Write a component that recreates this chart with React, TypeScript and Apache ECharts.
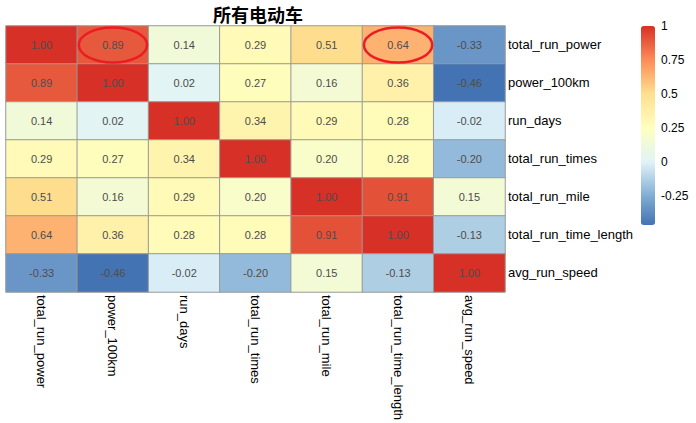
import React, { useEffect, useRef } from "react";
import * as echarts from "echarts";

const variables = [
  "total_run_power",
  "power_100km",
  "run_days",
  "total_run_times",
  "total_run_mile",
  "total_run_time_length",
  "avg_run_speed",
];

const rowTotalRunPower = [1.0, 0.89, 0.14, 0.29, 0.51, 0.64, -0.33];
const rowPower100km = [0.89, 1.0, 0.02, 0.27, 0.16, 0.36, -0.46];
const rowRunDays = [0.14, 0.02, 1.0, 0.34, 0.29, 0.28, -0.02];
const rowTotalRunTimes = [0.29, 0.27, 0.34, 1.0, 0.2, 0.28, -0.2];
const rowTotalRunMile = [0.51, 0.16, 0.29, 0.2, 1.0, 0.91, 0.15];
const rowTotalRunTimeLength = [0.64, 0.36, 0.28, 0.28, 0.91, 1.0, -0.13];
const rowAvgRunSpeed = [-0.33, -0.46, -0.02, -0.2, 0.15, -0.13, 1.0];

const matrix = [
  rowTotalRunPower,
  rowPower100km,
  rowRunDays,
  rowTotalRunTimes,
  rowTotalRunMile,
  rowTotalRunTimeLength,
  rowAvgRunSpeed,
];

// highlighted cells: [column index, row index]
const highlighted = [
  [1, 0],
  [5, 0],
];

const colorbarTicks = [1, 0.75, 0.5, 0.25, 0, -0.25];
const scaleMin = -0.46;
const scaleMax = 1;

const colorStops: [number, string][] = [
  [-0.46, "#4473b3"],
  [-0.25, "#80acd2"],
  [0, "#e0f3f8"],
  [0.25, "#ffffbf"],
  [0.5, "#fee090"],
  [0.75, "#fc8d59"],
  [1, "#d73027"],
];

function hexToRgb(h: string) {
  const n = parseInt(h.slice(1), 16);
  return [(n >> 16) & 255, (n >> 8) & 255, n & 255];
}
function colorAt(v: number) {
  for (let i = 0; i < colorStops.length - 1; i++) {
    const [a, ca] = colorStops[i];
    const [b, cb] = colorStops[i + 1];
    if (v <= b || i === colorStops.length - 2) {
      const t = Math.max(0, Math.min(1, (v - a) / (b - a)));
      const A = hexToRgb(ca);
      const B = hexToRgb(cb);
      const c = A.map((x, k) => Math.round(x + (B[k] - x) * t));
      return `rgb(${c[0]},${c[1]},${c[2]})`;
    }
  }
  return colorStops[colorStops.length - 1][1];
}
const paletteSteps = 147;
const palette: string[] = [];
for (let i = 0; i < paletteSteps; i++) {
  palette.push(colorAt(scaleMin + ((scaleMax - scaleMin) * i) / (paletteSteps - 1)));
}

export default function App() {
  const ref = useRef<HTMLDivElement>(null);
  useEffect(() => {
    if (!ref.current) return;
    const chart = echarts.init(ref.current, null, { renderer: "svg" });
    const heatData: [number, number, number][] = [];
    matrix.forEach((row, r) => row.forEach((v, c) => heatData.push([c, r, v])));
    const font = "'Liberation Sans', Arial, sans-serif";
    chart.setOption({
      animation: false,
      backgroundColor: "#ffffff",
      title: {
        text: "所有电动车",
        left: 253,
        top: 0,
        textAlign: "center",
        textStyle: {
          fontFamily: "'Noto Sans CJK SC', sans-serif",
          fontSize: 18,
          fontWeight: "bold",
          color: "#000",
        },
      },
      grid: [
        { left: 6, top: 26, width: 499, height: 267 },
        { left: 641, top: 26, width: 14, height: 199 },
      ],
      xAxis: [
        {
          type: "category",
          data: variables,
          gridIndex: 0,
          position: "bottom",
          axisLine: { show: false },
          axisTick: { show: false },
          splitLine: { show: false },
          axisLabel: {
            rotate: -90,
            margin: 3,
            interval: 0,
            fontSize: 13,
            fontFamily: font,
            color: "#000",
          },
        },
        { type: "value", gridIndex: 1, show: false, min: 0, max: 1 },
      ],
      yAxis: [
        {
          type: "category",
          data: variables,
          gridIndex: 0,
          inverse: true,
          position: "right",
          axisLine: { show: false },
          axisTick: { show: false },
          splitLine: { show: false },
          axisLabel: {
            margin: 3,
            interval: 0,
            fontSize: 13,
            fontFamily: font,
            color: "#000",
          },
        },
        {
          type: "value",
          gridIndex: 1,
          min: scaleMin,
          max: scaleMax,
          position: "right",
          axisLine: { show: false },
          axisTick: { show: false },
          splitLine: { show: false },
          axisLabel: {
            customValues: colorbarTicks,
            margin: 6,
            fontSize: 12,
            fontFamily: font,
            color: "#000",
          },
        },
      ],
      visualMap: {
        type: "continuous",
        seriesIndex: 0,
        min: scaleMin,
        max: scaleMax,
        calculable: false,
        hoverLink: false,
        left: 641,
        top: 26,
        itemWidth: 14,
        itemHeight: 199,
        padding: 0,
        text: null,
        inRange: { color: palette },
      },
      series: [
        {
          type: "heatmap",
          xAxisIndex: 0,
          yAxisIndex: 0,
          data: heatData,
          itemStyle: { borderColor: "#999", borderWidth: 1 },
          label: {
            show: true,
            fontSize: 11,
            fontFamily: font,
            color: "#4d4d4d",
            formatter: (p: any) => Number(p.value[2]).toFixed(2),
          },
          emphasis: { disabled: true },
        },
        {
          type: "custom",
          xAxisIndex: 0,
          yAxisIndex: 0,
          data: highlighted,
          silent: true,
          z: 10,
          renderItem: (params: any, api: any) => {
            const p = api.coord([api.value(0), api.value(1)]);
            const s = api.size([1, 1]);
            const rx = s[0] / 2 - 1.5;
            const ry = s[1] / 2 - 1.5;
            const d = `M ${p[0] - rx} ${p[1]} A ${rx} ${ry} 0 1 0 ${p[0] + rx} ${p[1]} A ${rx} ${ry} 0 1 0 ${p[0] - rx} ${p[1]} Z`;
            return {
              type: "path",
              shape: { pathData: d },
              style: { fill: "none", stroke: "#ec1c24", lineWidth: 2.5 },
            };
          },
        },
        {
          type: "line",
          xAxisIndex: 1,
          yAxisIndex: 1,
          data: [],
          silent: true,
        },
      ],
    });
    return () => chart.dispose();
  }, []);
  return (
    <div
      ref={ref}
      style={{ position: "absolute", left: 0, top: 0, width: 696, height: 423 }}
    />
  );
}
